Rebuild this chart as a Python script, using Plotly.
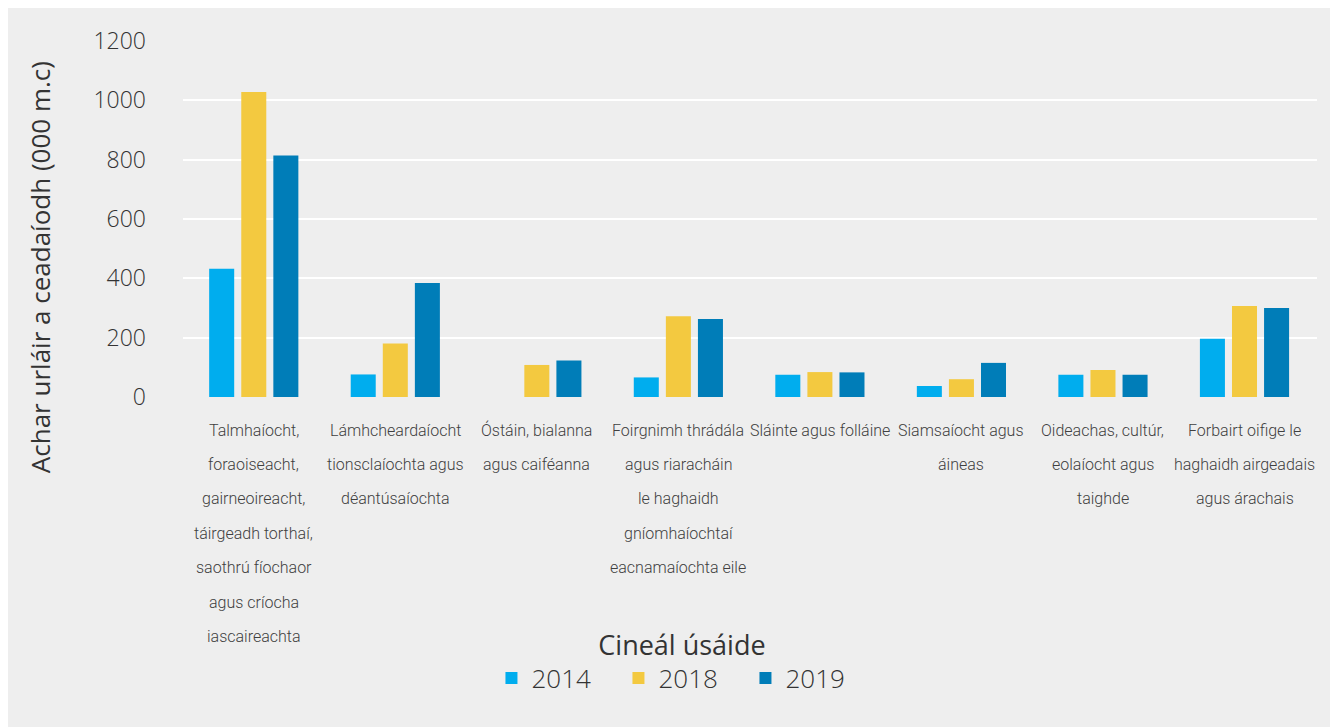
import plotly.graph_objects as go

categories = [
    "Talmhaíocht,<br>foraoiseacht,<br>gairneoireacht,<br>táirgeadh torthaí,<br>saothrú fíochaor<br>agus críocha<br>iascaireachta",
    "Lámhcheardaíocht<br>tionsclaíochta agus<br>déantúsaíochta",
    "Óstáin, bialanna<br>agus caiféanna",
    "Foirgnimh thrádála<br>agus riaracháin<br>le haghaidh<br>gníomhaíochtaí<br>eacnamaíochta eile",
    "Sláinte agus folláine",
    "Siamsaíocht agus<br>áineas",
    "Oideachas, cultúr,<br>eolaíocht agus<br>taighde",
    "Forbairt oifige le<br>haghaidh airgeadais<br>agus árachais",
]
cat_ids = [f"c{i}" for i in range(len(categories))]

years = ["2014", "2018", "2019"]
values_2014 = [432, 76, -3, 66, 75, 37, 75, 196]
values_2018 = [1028, 180, 108, 272, 84, 60, 91, 307]
values_2019 = [814, 384, 123, 263, 83, 115, 75, 300]
colors = ["#00ADEE", "#F3C940", "#007DB8"]

tick_vals = [0, 200, 400, 600, 800, 1000, 1200]
y_title = "Achar urláir a ceadaíodh (000 m.c)"
legend_title = "Cineál úsáide"

fig = go.Figure()
for name, vals, col in zip(years, [values_2014, values_2018, values_2019], colors):
    fig.add_trace(go.Bar(
        x=cat_ids, y=vals, name=name,
        marker=dict(color=col, line=dict(width=0)),
    ))

label_font = dict(family="Roboto", size=16, color="#404040", weight=300)
annotations = []
for cid, lab in zip(cat_ids, categories):
    for i, line in enumerate(lab.split("<br>")):
        annotations.append(dict(
            x=cid, xref="x", y=0, yref="paper",
            yanchor="middle", xanchor="center",
            yshift=-(33 + i * 34.4),
            text=line, showarrow=False, font=label_font,
        ))

annotations.append(dict(
    x=-0.126, xref="paper", y=0.365, yref="paper",
    text=y_title, textangle=-90, showarrow=False,
    xanchor="center", yanchor="middle",
    font=dict(family="Open Sans", size=26, color="#333333", weight=500),
))

fig.update_layout(
    width=1338, height=727,
    margin=dict(l=175, r=29, t=33, b=338),
    paper_bgcolor="#EEEEEE", plot_bgcolor="#EEEEEE",
    barmode="group", bargap=0.32, bargroupgap=0.22,
    showlegend=True,
    legend=dict(
        orientation="h", x=0.44, xanchor="center", y=-0.625, yanchor="top",
        title=dict(text=legend_title, side="top center",
                   font=dict(family="Open Sans", size=27, color="#333333", weight=500)),
        font=dict(family="Open Sans", size=26, color="#333333", weight=300),
        bgcolor="rgba(0,0,0,0)", itemwidth=30,
        entrywidth=82, entrywidthmode="pixels",
    ),
    annotations=annotations,
)
fig.update_xaxes(showticklabels=False, showgrid=False, zeroline=False, showline=False, ticks="")
fig.update_yaxes(
    range=[0, 1200], tickvals=tick_vals, showgrid=True, gridcolor="#FFFFFF", gridwidth=2,
    zeroline=False, showline=False, ticks="",
    tickfont=dict(family="Open Sans", size=23, color="#333333", weight=300),
    ticklabelstandoff=36,
)

fig.write_html("out.html")
